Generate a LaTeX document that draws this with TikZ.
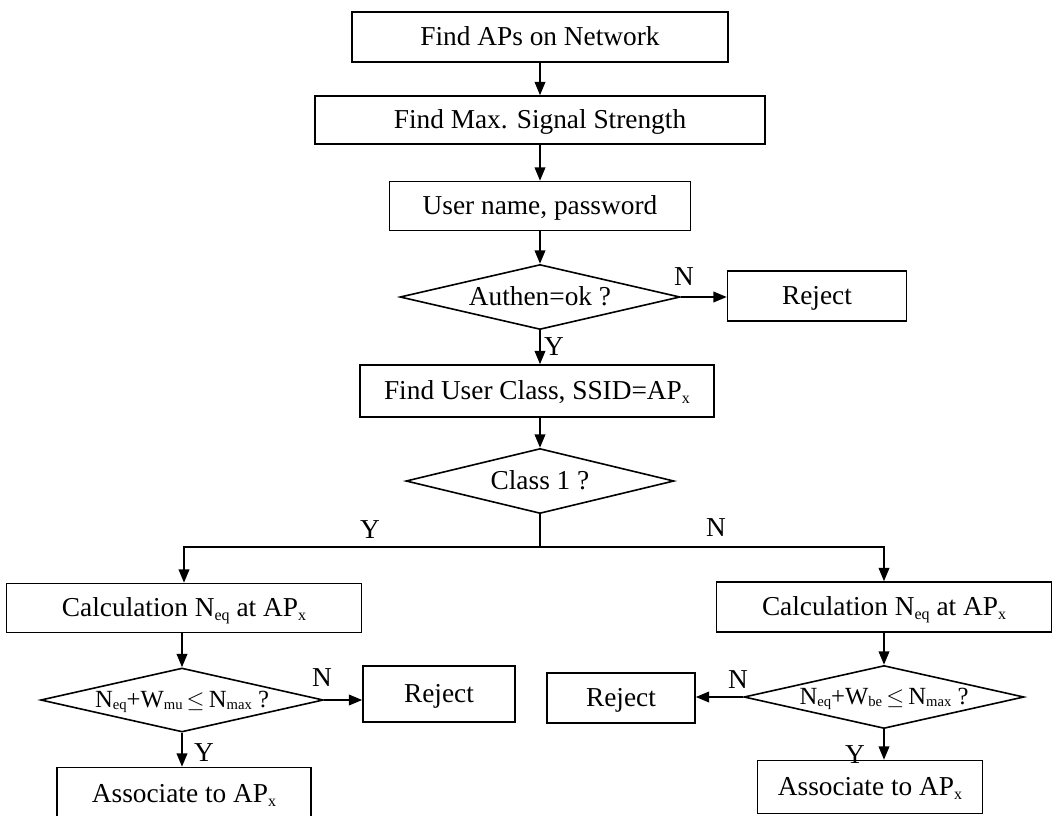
\documentclass[tikz,border=0pt]{standalone}
\usepackage{fontspec}
\setmainfont{Liberation Serif}
\usetikzlibrary{shapes.geometric,arrows.meta}
% small lowered index text, e.g. N_eq, AP_x
\newcommand{\sbs}[1]{\raisebox{-0.3ex}{\fontsize{12}{12}\selectfont #1}}
\newcommand{\sbd}[1]{\raisebox{-0.2ex}{\fontsize{11}{11}\selectfont #1}}
\begin{document}
\begin{tikzpicture}[x=0.75pt,y=-0.75pt,
  every node/.style={font=\fontsize{20.5}{24}\selectfont},
  proc/.style={draw, rectangle, line width=1.2pt, inner sep=0pt, text height=14pt, text depth=1.5pt},
  dec/.style={draw, diamond, line width=1.2pt, inner sep=0pt, shape aspect=4.3, text height=14pt, text depth=1.5pt},
  test/.style={dec, font=\fontsize{18.5}{22}\selectfont, text height=12.5pt, text depth=1.5pt},
  lbl/.style={inner sep=0pt},
  link/.style={line width=1.2pt},
  flow/.style={line width=1.2pt, -{Triangle[length=10pt,width=8pt]}}]
\clip (0,0) rectangle (1057,815);
\fill[white] (0,0) rectangle (1057,815);

% main column
\node[proc, minimum width=282pt, minimum height=37.5pt] (b1) at (540,37) {Find APs on Network};
\node[proc, minimum width=337.5pt, minimum height=36pt] (b2) at (540,120) {Find Max. Signal Strength};
\node[proc, minimum width=225.75pt, minimum height=36.75pt] (b3) at (540,206) {User name, password};
\node[dec, minimum width=210pt, minimum height=48.75pt] (d1) at (540,297) {Authen=ok ?};
\node[proc, minimum width=134.25pt, minimum height=37.5pt] (r1) at (817,296) {Reject};
\node[proc, minimum width=265.5pt, minimum height=39pt] (b4) at (537,391) {Find User Class, SSID=AP\sbs{x}};
\node[dec, minimum width=201pt, minimum height=48.75pt] (d2) at (540,481) {Class 1 ?};

% class 1 branch
\node[proc, minimum width=266.25pt, minimum height=36.75pt] (c1) at (184,608) {Calculation N\sbs{eq} at AP\sbs{x}};
\node[test, minimum width=212pt, minimum height=48pt] (d3) at (182,700) {N\sbd{eq}+W\sbd{mu}\,$\leq$\,N\sbd{max} ?};
\node[proc, minimum width=114pt, minimum height=42pt] (r2) at (439,694) {Reject};
\node[proc, minimum width=190.5pt, minimum height=39.75pt] (a1) at (184,794) {Associate to AP\sbs{x}};

% other classes
\node[proc, minimum width=251.25pt, minimum height=37.5pt] (c2) at (884,607) {Calculation N\sbs{eq} at AP\sbs{x}};
\node[test, minimum width=210pt, minimum height=47.25pt] (d4) at (884,697) {N\sbd{eq}+W\sbd{be}\,$\leq$\,N\sbd{max} ?};
\node[proc, minimum width=111pt, minimum height=37.5pt] (r3) at (621,698) {Reject};
\node[proc, minimum width=168.75pt, minimum height=39.75pt] (a2) at (870,787) {Associate to AP\sbs{x}};

\coordinate (split) at (540,547);

% connectors
\draw[flow] (b1) -- (b2);
\draw[flow] (b2) -- (b3);
\draw[flow] (b3) -- (d1);
\draw[flow] (d1.south) -- (d1.south |- b4.north);
\draw[flow] (d1.east) -- (d1.east -| r1.west);
\draw[flow] (b4.south -| d2.north) -- (d2.north);
\draw[link] (d2.south) -- (split);
\draw[flow] (split) -| (c1.north);
\draw[flow] (split) -| (c2.north);
\draw[flow] (c1.south -| d3.north) -- (d3.north);
\draw[flow] (d3.east) -- (d3.east -| r2.west);
\draw[flow] (d3.south) -- (d3.south |- a1.north);
\draw[flow] (c2) -- (d4);
\draw[flow] (d4.west) -- (d4.west -| r3.east);
\draw[flow] (d4.south) -- (d4.south |- a2.north);

% branch labels
\node[lbl] (n1) at (684,277) {N};
\node[lbl] (y1) at (554,347) {Y};
\node[lbl] (y2) at (370,530) {Y};
\node[lbl] (n2) at (716,528) {N};
\node[lbl] (n3) at (322,678) {N};
\node[lbl] (y3) at (204,753) {Y};
\node[lbl] (n4) at (738,680) {N};
\node[lbl] (y4) at (855,755) {Y};
\end{tikzpicture}
\end{document}
